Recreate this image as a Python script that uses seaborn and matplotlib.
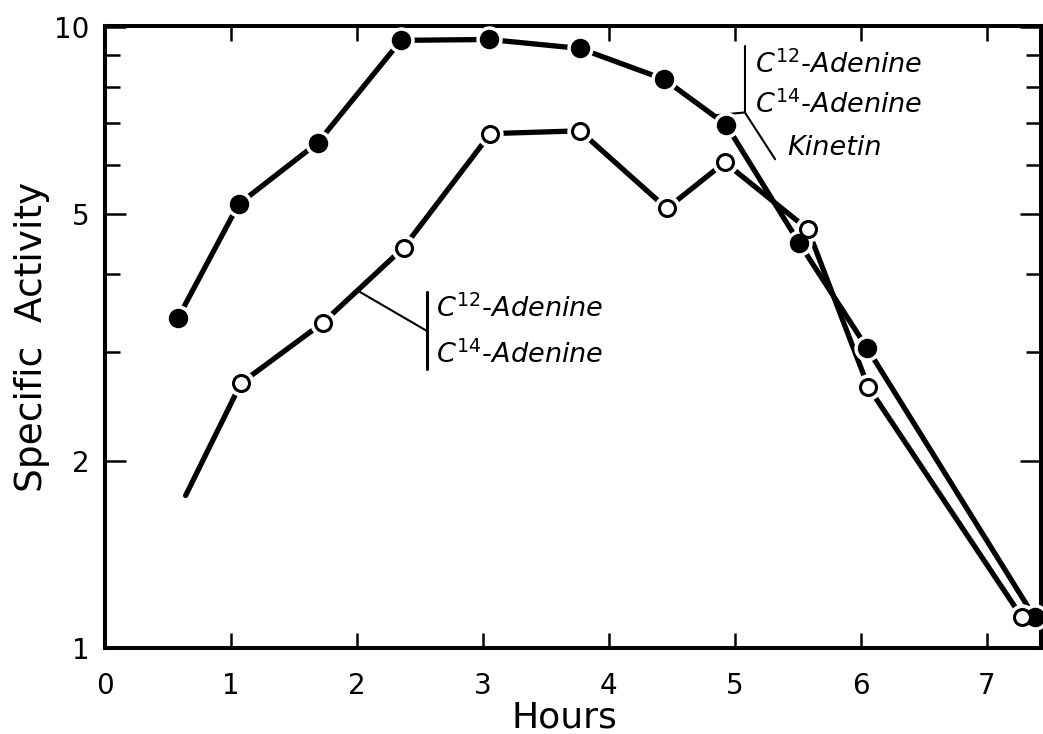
import matplotlib
matplotlib.use("Agg")
import matplotlib.pyplot as plt
from matplotlib.ticker import FixedLocator, FixedFormatter, NullFormatter
import pandas as pd
import seaborn as sns

# ---------------- data ----------------
hours_filled = [0.58, 1.06, 1.69, 2.35, 3.05, 3.77, 4.44, 4.93, 5.51, 6.05, 7.38]
act_filled = [3.40, 5.18, 6.51, 9.51, 9.54, 9.23, 8.23, 6.96, 4.49, 3.04, 1.12]

hours_open = [0.64, 1.08, 1.73, 2.37, 3.06, 3.77, 4.46, 4.92, 5.58, 6.06, 7.28]
act_open = [1.76, 2.67, 3.34, 4.41, 6.73, 6.80, 5.10, 6.05, 4.72, 2.63, 1.12]
open_has_marker = [False, True, True, True, True, True, True, True, True, True, True]

x_ticks = [0, 1, 2, 3, 4, 5, 6, 7]
x_tick_labels = ["0", "1", "2", "3", "4", "5", "6", "7"]
y_major = [1, 2, 5, 10]
y_major_labels = ["1", "2", "5", "10"]
y_minor = [3, 4, 6, 7, 8, 9]

label_filled = [r"$\mathit{C}^{\mathit{12}}$-Adenine", r"$\mathit{C}^{\mathit{14}}$-Adenine", "Kinetin"]
label_open = [r"$\mathit{C}^{\mathit{12}}$-Adenine", r"$\mathit{C}^{\mathit{14}}$-Adenine"]

df_f = pd.DataFrame({"Hours": hours_filled, "Activity": act_filled})
df_o = pd.DataFrame({"Hours": hours_open, "Activity": act_open, "mk": open_has_marker})

# ---------------- style ----------------
sns.set_theme(style="white")
plt.rcParams["font.family"] = ["DejaVu Sans"]
plt.rcParams["text.color"] = "black"
plt.rcParams["axes.labelcolor"] = "black"
plt.rcParams["xtick.color"] = "black"
plt.rcParams["ytick.color"] = "black"

fig = plt.figure(figsize=(10.43, 7.34), dpi=100)
ax = fig.add_axes([0.1007, 0.1172, 0.8973, 0.8474])

LW = 3.8
sns.lineplot(data=df_f, x="Hours", y="Activity", ax=ax, color="black", lw=LW,
             sort=False, estimator=None, zorder=2)
sns.lineplot(data=df_o, x="Hours", y="Activity", ax=ax, color="black", lw=LW,
             sort=False, estimator=None, zorder=2)

# white halos (gap between line and marker)
mo = df_o[df_o["mk"]]
ax.scatter(df_f["Hours"], df_f["Activity"], s=19 ** 2, color="white", zorder=3,
           linewidths=0, clip_on=False)
ax.scatter(mo["Hours"], mo["Activity"], s=19 ** 2, color="white", zorder=3,
           linewidths=0, clip_on=False)
# markers
ax.plot(df_f["Hours"], df_f["Activity"], ls="none", marker="o", ms=13,
        mfc="black", mec="black", zorder=4, clip_on=False)
ax.plot(mo["Hours"], mo["Activity"], ls="none", marker="o", ms=11.5,
        mfc="white", mec="black", mew=2.2, zorder=5, clip_on=False)

ax.set_yscale("log")
ax.set_xlim(0, 7.43)
ax.set_ylim(1, 10.03)

ax.xaxis.set_major_locator(FixedLocator(x_ticks))
ax.xaxis.set_major_formatter(FixedFormatter(x_tick_labels))
ax.yaxis.set_major_locator(FixedLocator(y_major))
ax.yaxis.set_major_formatter(FixedFormatter(y_major_labels))
ax.yaxis.set_minor_locator(FixedLocator(y_minor))
ax.yaxis.set_minor_formatter(NullFormatter())
ax.xaxis.set_minor_locator(FixedLocator([]))

ax.tick_params(axis="both", which="both", direction="in", top=True, right=True,
               bottom=True, left=True, color="black", width=1.8, labelcolor="black")
ax.tick_params(axis="x", which="major", length=11, pad=17, labelsize=20)
ax.tick_params(axis="y", which="major", length=15, pad=11, labelsize=20)
ax.tick_params(axis="y", which="minor", length=11)

for sp in ax.spines.values():
    sp.set_linewidth(2.9)
    sp.set_color("black")

ax.set_xlabel("Hours", fontsize=26, color="black")
ax.set_ylabel("Specific  Activity", fontsize=27, color="black")
ax.xaxis.set_label_coords(0.491, -0.085)
ax.yaxis.set_label_coords(-0.059, 0.5)

# ---------------- annotations ----------------
afs = 19.5
# upper (filled series)
ax.plot([5.08, 5.08], [9.32, 7.28], color="black", lw=1.5, zorder=2)
ax.plot([4.83, 5.08], [7.2, 7.28], color="black", lw=1.5, zorder=2)
ax.plot([5.08, 5.32], [7.28, 6.12], color="black", lw=1.5, zorder=2)
ax.text(5.16, 8.69, label_filled[0], fontsize=afs, style="italic", va="center", ha="left", color="black")
ax.text(5.16, 7.49, label_filled[1], fontsize=afs, style="italic", va="center", ha="left", color="black")
ax.text(5.42, 6.37, label_filled[2], fontsize=afs, style="italic", va="center", ha="left", color="black")

# lower (open series)
ax.plot([2.554, 2.554], [3.74, 2.81], color="black", lw=2.2, zorder=2)
ax.plot([2.006, 2.554], [3.76, 3.24], color="black", lw=1.5, zorder=2)
ax.text(2.625, 3.52, label_open[0], fontsize=afs, style="italic", va="center", ha="left", color="black")
ax.text(2.625, 2.97, label_open[1], fontsize=afs, style="italic", va="center", ha="left", color="black")

fig.savefig("out.png", dpi=100, facecolor="white")
